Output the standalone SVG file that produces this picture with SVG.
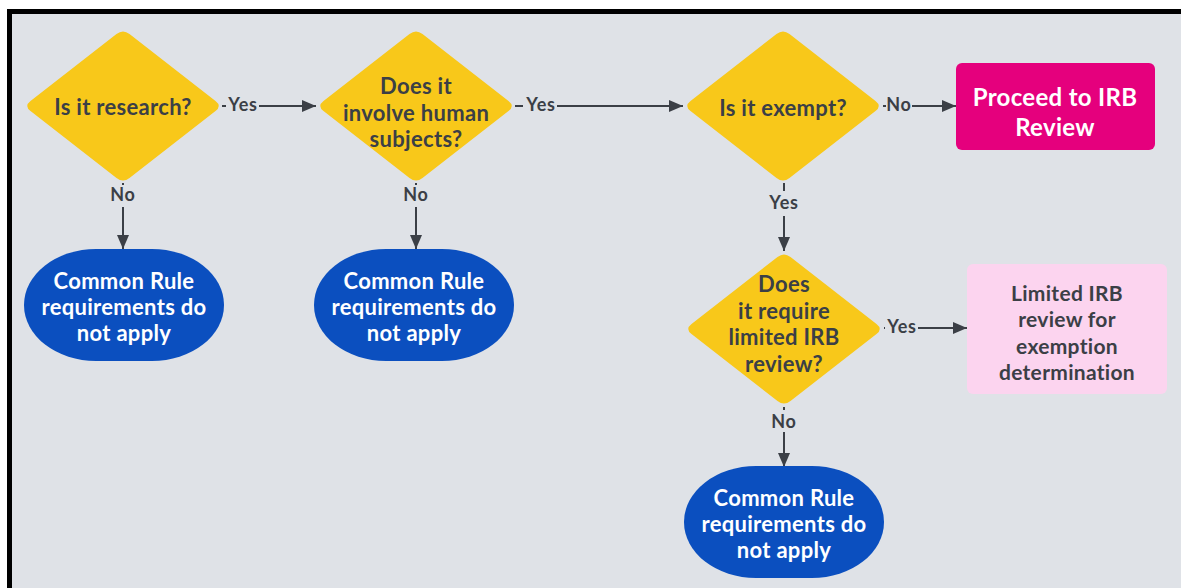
<svg xmlns="http://www.w3.org/2000/svg" xmlns:xlink="http://www.w3.org/1999/xlink" width="1181" height="588" viewBox="0 0 1181 588">
  <style>
    .q { font-family: Lato, "Open Sans", sans-serif; font-weight: bold; font-size: 22px; letter-spacing: 0.3px; fill: #3b3f46; text-anchor: middle; dominant-baseline: central; }
    .w { font-family: Lato, "Open Sans", sans-serif; font-weight: bold; font-size: 22px; letter-spacing: 0.3px; fill: #ffffff; text-anchor: middle; dominant-baseline: central; }
    .lbl { font-family: Lato, "Open Sans", sans-serif; font-weight: bold; font-size: 18px; letter-spacing: 0.8px; fill: #3b3f46; text-anchor: middle; dominant-baseline: central; }
    .edge { stroke: #3b3f46; stroke-width: 2; fill: none; marker-end: url(#arrow); }
    .lblbg { fill: #dfe2e7; }
    .decision { fill: #f8c81a; }
    .terminal { fill: #0b4fbf; }
  </style>
  <defs>
    <marker id="arrow" viewBox="0 0 14 12" refX="14" refY="6" markerWidth="14" markerHeight="12" markerUnits="userSpaceOnUse" orient="auto">
      <path d="M0,0 L14,6 L0,12 Z" fill="#3b3f46"/>
    </marker>
    <!-- decision diamond centred on the origin, softly rounded corners -->
    <path id="dia" d="M6.5,-72 L92.5,-5 Q99,0 92.5,5 L6.5,72 Q0,77 -6.5,72 L-92.5,5 Q-99,0 -92.5,-5 L-6.5,-72 Q0,-77 6.5,-72 Z"/>
    <rect id="pill" x="-100" y="-56" width="200" height="112" rx="72" ry="56"/>
  </defs>

  <!-- page and frame -->
  <rect x="0" y="0" width="1181" height="588" fill="#ffffff"/>
  <rect x="9.5" y="11.5" width="1200" height="600" fill="#dfe2e7" stroke="#000000" stroke-width="5"/>

  <!-- connectors -->
  <g id="connectors">
    <line class="edge" x1="222" y1="106" x2="316" y2="106"/>
    <rect class="lblbg" x="226" y="95" width="33" height="19"/>
    <text class="lbl" x="243" y="104">Yes</text>

    <line class="edge" x1="515" y1="106" x2="683" y2="106"/>
    <rect class="lblbg" x="523" y="95" width="34" height="19"/>
    <text class="lbl" x="541" y="104">Yes</text>

    <line class="edge" x1="883" y1="106" x2="956" y2="106"/>
    <rect class="lblbg" x="886" y="95" width="26" height="19"/>
    <text class="lbl" x="899" y="104">No</text>

    <line class="edge" x1="123" y1="183" x2="123" y2="249"/>
    <rect class="lblbg" x="110" y="185" width="26" height="22"/>
    <text class="lbl" x="123" y="194">No</text>

    <line class="edge" x1="416" y1="183" x2="416" y2="249"/>
    <rect class="lblbg" x="403" y="185" width="26" height="22"/>
    <text class="lbl" x="416" y="194">No</text>

    <line class="edge" x1="784" y1="183" x2="784" y2="251"/>
    <rect class="lblbg" x="767" y="191" width="34" height="25"/>
    <text class="lbl" x="784" y="202">Yes</text>

    <line class="edge" x1="884" y1="328" x2="967" y2="328"/>
    <rect class="lblbg" x="885" y="317" width="33" height="19"/>
    <text class="lbl" x="902" y="326">Yes</text>

    <line class="edge" x1="784" y1="407" x2="784" y2="467"/>
    <rect class="lblbg" x="771" y="410" width="26" height="22"/>
    <text class="lbl" x="784" y="421">No</text>
  </g>

  <!-- decisions -->
  <g id="is-research">
    <use xlink:href="#dia" class="decision" x="123" y="106"/>
    <text class="q" x="123" y="106">Is it research?</text>
  </g>
  <g id="human-subjects">
    <use xlink:href="#dia" class="decision" x="416" y="106"/>
    <text class="q" x="416" y="85">Does it</text>
    <text class="q" x="416" y="112">involve human</text>
    <text class="q" x="416" y="138">subjects?</text>
  </g>
  <g id="is-exempt">
    <use xlink:href="#dia" class="decision" x="783" y="106"/>
    <text class="q" x="783" y="107">Is it exempt?</text>
  </g>
  <g id="limited-review">
    <use xlink:href="#dia" class="decision" x="784" y="329"/>
    <text class="q" x="784" y="283">Does</text>
    <text class="q" x="784" y="310">it require</text>
    <text class="q" x="784" y="336">limited IRB</text>
    <text class="q" x="784" y="363">review?</text>
  </g>

  <!-- outcomes -->
  <g id="proceed-irb">
    <rect x="956" y="63" width="199" height="87" rx="6" fill="#e5007d"/>
    <text class="w" x="1055" y="96" style="font-size:24px">Proceed to IRB</text>
    <text class="w" x="1055" y="126" style="font-size:24px">Review</text>
  </g>
  <g id="limited-irb">
    <rect x="967" y="264" width="200" height="130" rx="6" fill="#fcd4ef"/>
    <text class="q" x="1067" y="292" style="font-size:21px">Limited IRB</text>
    <text class="q" x="1067" y="318" style="font-size:21px">review for</text>
    <text class="q" x="1067" y="345" style="font-size:21px">exemption</text>
    <text class="q" x="1067" y="371" style="font-size:21px">determination</text>
  </g>
  <g id="not-apply-1">
    <use xlink:href="#pill" class="terminal" x="124" y="305"/>
    <text class="w" x="124" y="280">Common Rule</text>
    <text class="w" x="124" y="306">requirements do</text>
    <text class="w" x="124" y="332">not apply</text>
  </g>
  <g id="not-apply-2">
    <use xlink:href="#pill" class="terminal" x="414" y="305"/>
    <text class="w" x="414" y="280">Common Rule</text>
    <text class="w" x="414" y="306">requirements do</text>
    <text class="w" x="414" y="332">not apply</text>
  </g>
  <g id="not-apply-3">
    <use xlink:href="#pill" class="terminal" x="784" y="522"/>
    <text class="w" x="784" y="497">Common Rule</text>
    <text class="w" x="784" y="523">requirements do</text>
    <text class="w" x="784" y="549">not apply</text>
  </g>
</svg>
